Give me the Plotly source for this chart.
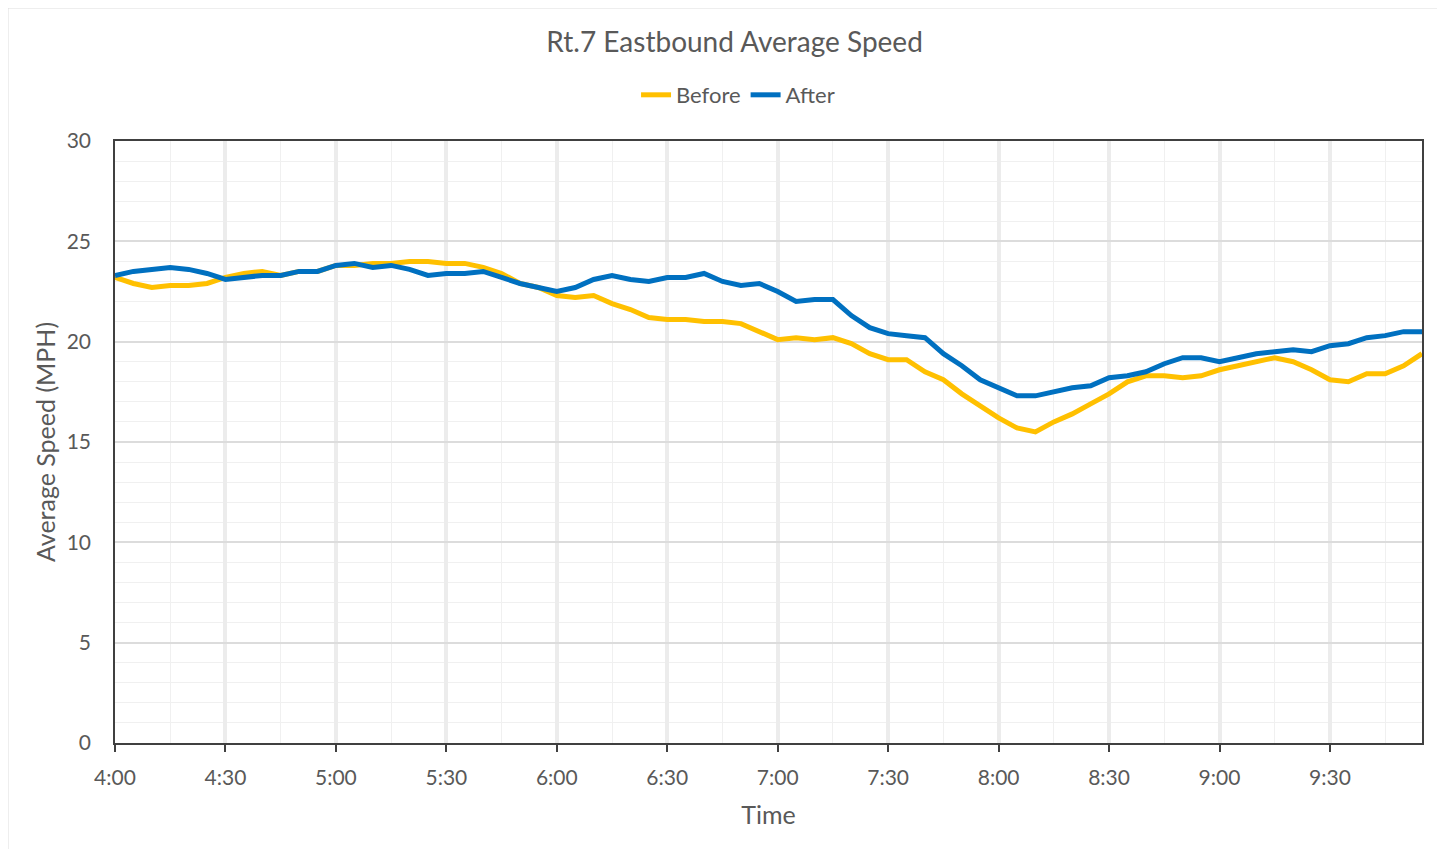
import pandas as pd
import plotly.graph_objects as go

times = pd.date_range("2024-01-01 04:00", "2024-01-01 09:55", freq="5min")

before = [23.2, 22.9, 22.7, 22.8, 22.8, 22.9, 23.2, 23.4, 23.5, 23.3,
          23.5, 23.5, 23.8, 23.8, 23.9, 23.9, 24.0, 24.0, 23.9, 23.9,
          23.7, 23.4, 22.9, 22.7, 22.3, 22.2, 22.3, 21.9, 21.6, 21.2,
          21.1, 21.1, 21.0, 21.0, 20.9, 20.5, 20.1, 20.2, 20.1, 20.2,
          19.9, 19.4, 19.1, 19.1, 18.5, 18.1, 17.4, 16.8, 16.2, 15.7,
          15.5, 16.0, 16.4, 16.9, 17.4, 18.0, 18.3, 18.3, 18.2, 18.3,
          18.6, 18.8, 19.0, 19.2, 19.0, 18.6, 18.1, 18.0, 18.4, 18.4,
          18.8, 19.4]

after = [23.3, 23.5, 23.6, 23.7, 23.6, 23.4, 23.1, 23.2, 23.3, 23.3,
         23.5, 23.5, 23.8, 23.9, 23.7, 23.8, 23.6, 23.3, 23.4, 23.4,
         23.5, 23.2, 22.9, 22.7, 22.5, 22.7, 23.1, 23.3, 23.1, 23.0,
         23.2, 23.2, 23.4, 23.0, 22.8, 22.9, 22.5, 22.0, 22.1, 22.1,
         21.3, 20.7, 20.4, 20.3, 20.2, 19.4, 18.8, 18.1, 17.7, 17.3,
         17.3, 17.5, 17.7, 17.8, 18.2, 18.3, 18.5, 18.9, 19.2, 19.2,
         19.0, 19.2, 19.4, 19.5, 19.6, 19.5, 19.8, 19.9, 20.2, 20.3,
         20.5, 20.5]

FONT = "Lato"
TXT = "#595959"

fig = go.Figure()
fig.add_trace(go.Scatter(x=times, y=before, mode="lines", name="Before",
                         line=dict(color="#FFC000", width=5)))
fig.add_trace(go.Scatter(x=times, y=after, mode="lines", name="After",
                         line=dict(color="#0070C0", width=5)))

fig.update_layout(
    width=1437, height=841,
    margin=dict(l=107, r=23, t=133, b=106),
    paper_bgcolor="white", plot_bgcolor="white",
    font=dict(family=FONT, color=TXT, size=21),
    title=dict(text="Rt.7 Eastbound Average Speed", x=0.5056, xanchor="center",
               y=0.9596, yanchor="middle", font=dict(size=28, color=TXT, family=FONT)),
    legend=dict(orientation="h", x=0.4767, xanchor="center", y=1.0764, yanchor="middle",
                font=dict(size=22, color=TXT), itemwidth=30, tracegroupgap=0,
                bgcolor="rgba(0,0,0,0)"),
    showlegend=True,
)

fig.update_xaxes(
    range=[times[0], times[-1]],
    tick0=times[0], dtick=30 * 60 * 1000, tickformat="%-H:%M",
    showgrid=True, gridcolor="#ececec", gridwidth=4,
    minor=dict(dtick=15 * 60 * 1000, showgrid=True, gridcolor="#f0f0f0", gridwidth=1),
    showline=True, linecolor="#404040", linewidth=1.5, mirror=True,
    ticks="outside", ticklen=7, tickcolor="#404040", tickwidth=1.5,
    tickfont=dict(size=21, color=TXT), ticklabelstandoff=8,
    title=dict(text="Time", font=dict(size=25, color=TXT), standoff=19),
    zeroline=False,
)

fig.update_yaxes(
    range=[0, 30], dtick=5,
    showgrid=True, gridcolor="#dcdcdc", gridwidth=2,
    minor=dict(dtick=1, showgrid=True, gridcolor="#f0f0f0", gridwidth=1),
    showline=True, linecolor="#404040", linewidth=1.5, mirror=True,
    ticks="", tickfont=dict(size=21, color=TXT), ticklabelstandoff=18,
    title=dict(text="Average Speed (MPH)", font=dict(size=25, color=TXT), standoff=4),
    zeroline=False,
)

fig.add_shape(type="rect", xref="paper", yref="paper",
              x0=-0.0819, x1=1.0145, y0=-0.25, y1=1.221,
              line=dict(color="#d9d9d9", width=1), fillcolor="rgba(0,0,0,0)", layer="below")

fig.write_html("out.html")
